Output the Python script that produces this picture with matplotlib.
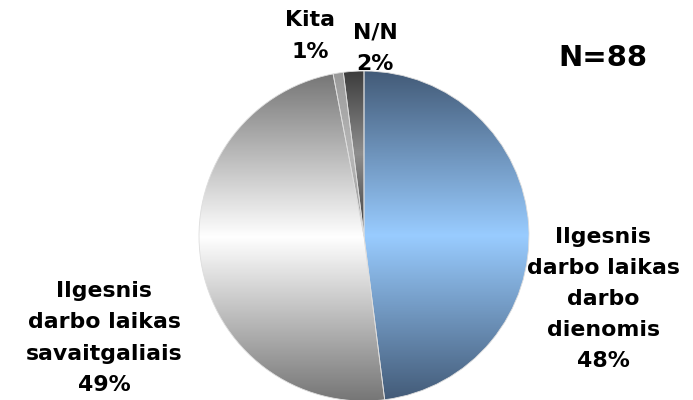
import matplotlib.pyplot as plt
import numpy as np
from matplotlib.colors import LinearSegmentedColormap

# duomenys
labels = ['Ilgesnis\ndarbo laikas\ndarbo\ndienomis', 'Ilgesnis\ndarbo laikas\nsavaitgaliais', 'Kita', 'N/N']
values = [48, 49, 1, 2]
shades = [('#435b78', '#99ccff'), ('#767676', '#ffffff'), ('#9a9a9a', '#b8b8b8'), ('#3c3c3c', '#8e8e8e')]

fig = plt.figure(figsize=(6.93, 4), dpi=100)
ax = fig.add_axes([0, 0, 1, 1])

cx, cy, r = 364, 164, 165
wedges, _ = ax.pie(values, startangle=90, counterclock=False, center=(cx, cy), radius=r,
                   frame=True, wedgeprops=dict(edgecolor='#dddddd', linewidth=0.6))
ax.set_xlim(0, 693)
ax.set_ylim(0, 400)
ax.set_aspect('equal')
ax.axis('off')

# gradientas kiekvienam sektoriui: tamsu viršuje ir apačioje, šviesu viduryje
for w, (dark, light) in zip(wedges, shades):
    w.set_facecolor('none')
    ext = w.get_path().get_extents(w.get_transform() + ax.transData.inverted())
    cmap = LinearSegmentedColormap.from_list('g', [dark, light, dark])
    grad = np.linspace(0, 1, 256).reshape(-1, 1)
    im = ax.imshow(grad, cmap=cmap, aspect='auto', origin='lower',
                   extent=(ext.x0, ext.x1, ext.y0, ext.y1), zorder=0.5)
    im.set_clip_path(w)

font = dict(fontweight='bold', fontsize=15.8, ha='center', va='center', linespacing=1.7)
ax.text(603, 101, labels[0] + '\n48%', **font)
ax.text(104, 62, labels[1] + '\n49%', **font)
ax.text(310, 364, labels[2] + '\n1%', **font)
ax.text(375, 352, labels[3] + '\n2%', **font)
ax.text(603, 342, 'N=88', fontweight='bold', fontsize=21, ha='center', va='center')

fig.savefig('out.png', dpi=100)
